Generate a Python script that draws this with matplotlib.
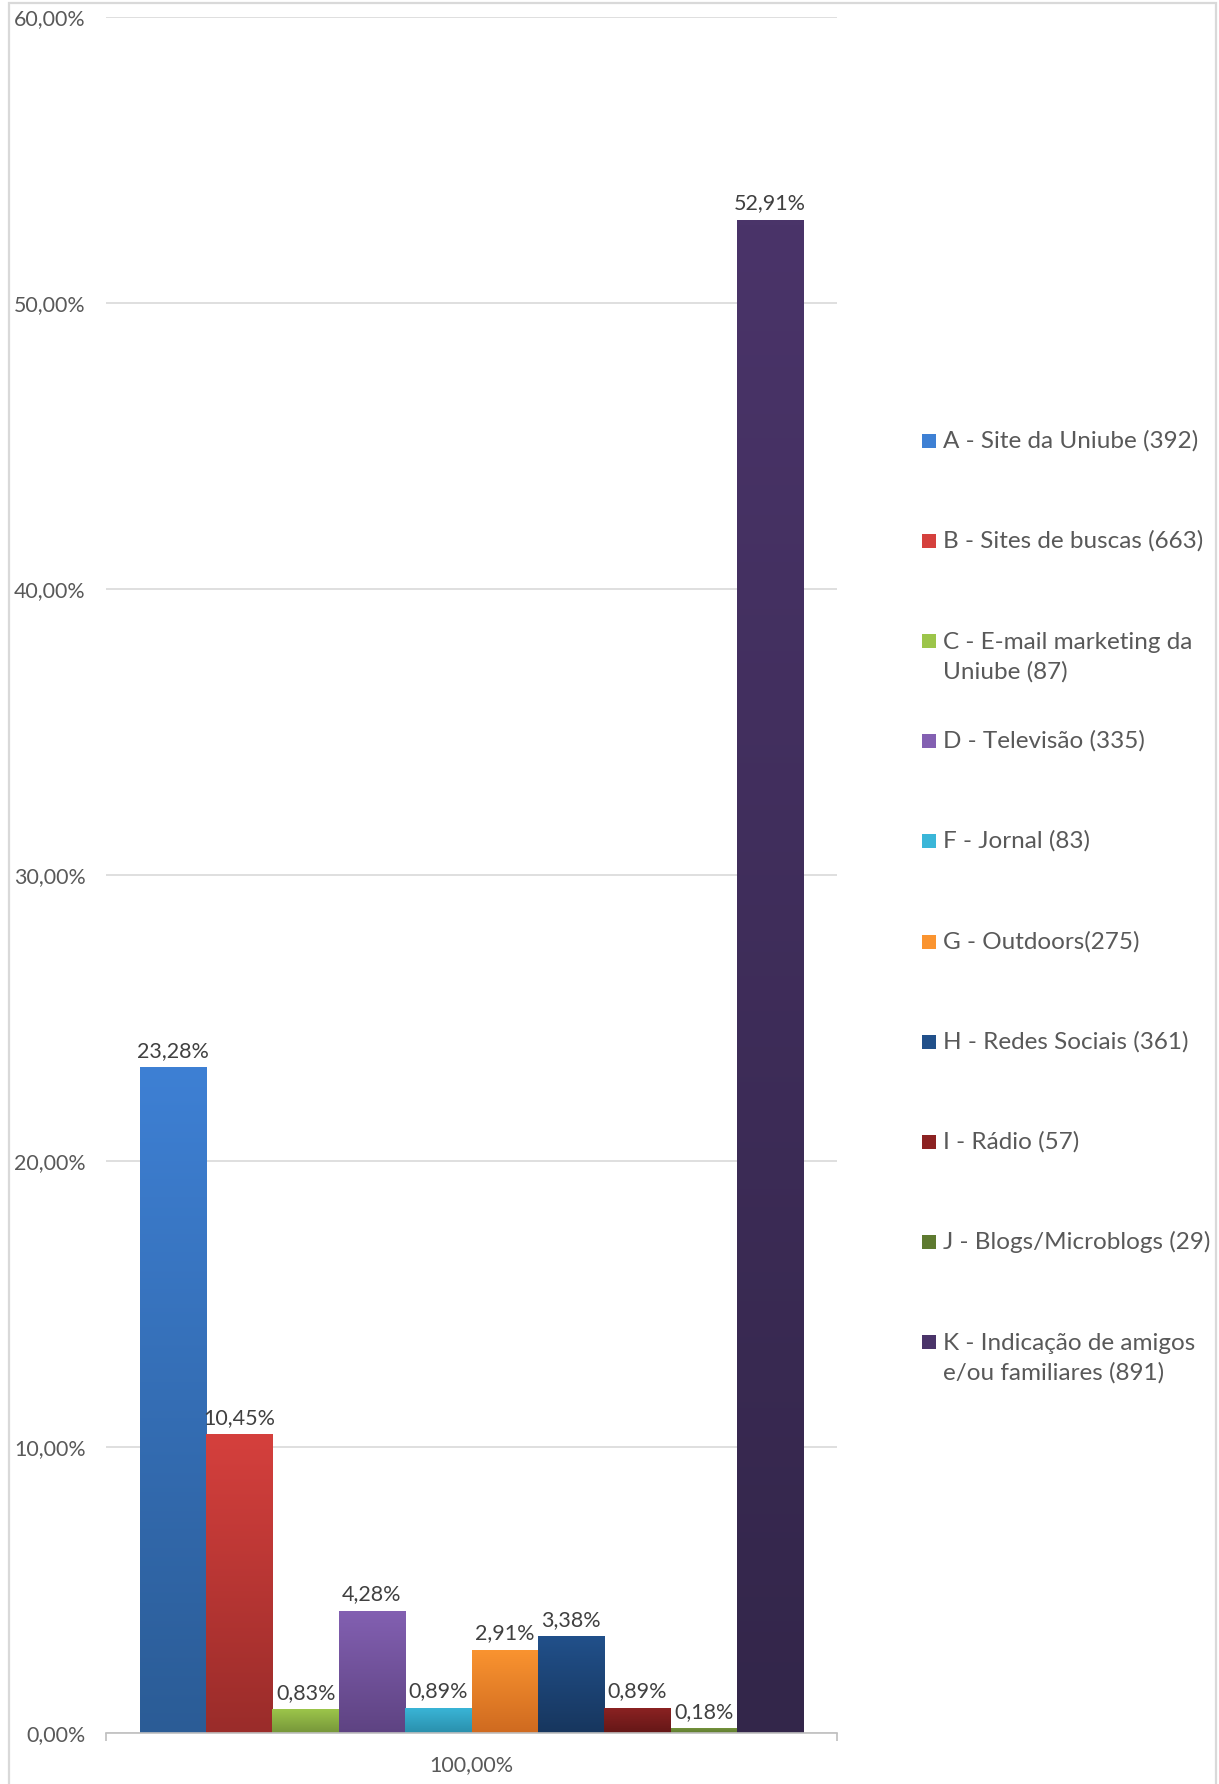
import matplotlib
matplotlib.use("Agg")
import matplotlib.pyplot as plt
import numpy as np
from matplotlib.colors import LinearSegmentedColormap
from matplotlib.patches import Rectangle
from matplotlib.ticker import FixedLocator, FuncFormatter

plt.rcParams['font.family'] = ['Lato', 'DejaVu Sans']

categories = ["100,00%"]
series_labels = [
    "A - Site da Uniube (392)",
    "B - Sites de buscas (663)",
    "C - E-mail marketing da\nUniube (87)",
    "D - Televisão (335)",
    "F - Jornal (83)",
    "G - Outdoors(275)",
    "H - Redes Sociais (361)",
    "I - Rádio (57)",
    "J - Blogs/Microblogs (29)",
    "K - Indicação de amigos\ne/ou familiares (891)",
]
values = [23.28, 10.45, 0.83, 4.28, 0.89, 2.91, 3.38, 0.89, 0.18, 52.91]
top_colors = ["#3E80D4", "#D5403D", "#9CC54A", "#8360B2", "#3AB6D8",
              "#FA9430", "#21508A", "#8C2222", "#78973E", "#4A3469"]
bottom_colors = ["#2B5C96", "#9A2C2A", "#76963A", "#5E4382", "#2A8FAC",
                 "#CF6A20", "#17365E", "#641717", "#5E7A30", "#33264A"]
yticks = [0, 10, 20, 30, 40, 50, 60]

W, H = 1219, 1784
fig = plt.figure(figsize=(W / 100, H / 100), dpi=100)
fig.patch.set_facecolor("white")

# outer chart frame
fig.patches.append(Rectangle((9 / W, -0.01), (1216 - 9) / W, 1 - 3 / H + 0.01,
                             transform=fig.transFigure, fill=False,
                             edgecolor="#D9D9D9", linewidth=1.6, zorder=0))

ax = fig.add_axes([106 / W, 1 - 1733 / H, (837 - 106) / W, (1733 - 17) / H])
n = len(values)
bw = 1.0
xs = (np.arange(n) - (n - 1) / 2) * bw
half = n / 2 * bw + 0.51

grad = np.linspace(0, 1, 256).reshape(-1, 1)
for i, (x, v) in enumerate(zip(xs, values)):
    rect = Rectangle((x - bw / 2, 0), bw, v, facecolor="none", edgecolor="none")
    ax.add_patch(rect)
    cmap = LinearSegmentedColormap.from_list(f"g{i}", [bottom_colors[i], top_colors[i]])
    im = ax.imshow(grad, extent=(x - bw / 2, x + bw / 2, 0, v), origin="lower",
                   cmap=cmap, aspect="auto", zorder=2)
    im.set_clip_path(rect)
    ax.annotate(f"{v:.2f}%".replace(".", ","), (x, v), xytext=(0, 4.5),
                textcoords="offset points", ha="center", va="bottom",
                fontsize=15.5, color="#404040", zorder=3)

ax.set_xlim(-half, half)
ax.set_ylim(0, 60)
ax.set_yticks(yticks)
ax.yaxis.set_major_formatter(FuncFormatter(lambda v, p: f"{v:.2f}%".replace(".", ",")))
ax.tick_params(axis="y", length=0, pad=14.8, labelsize=15.4, labelcolor="#595959")
ax.grid(axis="y", color="#D9D9D9", linewidth=1.2, zorder=0)
ax.set_axisbelow(True)

ax.set_xticks([0])
ax.set_xticklabels(categories)
ax.tick_params(axis="x", which="major", length=0, pad=16, labelsize=15.5, labelcolor="#595959")
ax.xaxis.set_minor_locator(FixedLocator([-half, half]))
ax.tick_params(axis="x", which="minor", length=6, width=1.2, color="#BFBFBF", direction="out")

for s in ["top", "right", "left"]:
    ax.spines[s].set_visible(False)
ax.spines["bottom"].set_color("#BFBFBF")
ax.spines["bottom"].set_linewidth(1.2)

# legend, laid out to match fixed entry spacing
y0 = 440.5
dy = 100.2
fs_leg = 17.5
for i, lab in enumerate(series_labels):
    yc = y0 + i * dy
    fig.patches.append(Rectangle((922 / W, 1 - (yc + 7) / H), 14 / W, 14 / H,
                                 transform=fig.transFigure,
                                 facecolor=top_colors[i] if i != 8 else "#5E7A30",
                                 edgecolor="none"))
    if "\n" in lab:
        fig.text(943 / W, 1 - (yc - 9) / H, lab, ha="left", va="top",
                 fontsize=fs_leg, color="#595959", linespacing=1.45,
                 transform=fig.transFigure)
    else:
        fig.text(943 / W, 1 - yc / H, lab, ha="left", va="center",
                 fontsize=fs_leg, color="#595959", transform=fig.transFigure)

fig.savefig("out.png", dpi=100, facecolor="white")
